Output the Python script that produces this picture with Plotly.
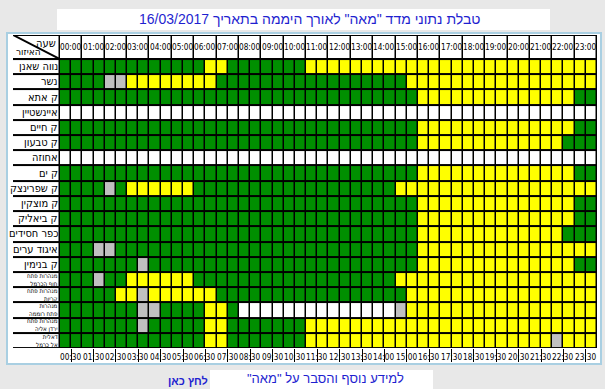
import plotly.graph_objects as go

# ---------------- data ----------------
stations = [
    "נווה שאנן", "נשר", "ק אתא", "איינשטיין", "ק חיים", "ק טבעון", "אחוזה",
    "ק ים", "ק שפרינצק", "ק מוצקין", "ק ביאליק", "כפר חסידים", "איגוד ערים",
    "ק בנימין", "מנהרות פתח<br>חוף הכרמל", "מנהרות פתח<br>קריות",
    "מנהרות<br>פתח רוממה", "מנהרות פתח<br>ירדן אליה", "דאלית<br>אל כרמל",
]

hour_labels = ["00:00", "01:00", "02:00", "03:00", "04:00", "05:00", "06:00", "07:00",
               "08:00", "09:00", "10:00", "11:00", "12:00", "13:00", "14:00", "15:00",
               "16:00", "17:00", "18:00", "19:00", "20:00", "21:00", "22:00", "23:00"]

bottom_labels = ["00:30", "01:30", "02:30", "03:30", "04:30", "05:30", "06:30", "07:30",
                 "08:30", "09:30", "10:30", "11:30", "12:30", "13:30", "14:00", "15:00",
                 "16:30", "17:30", "18:30", "19:30", "20:30", "21:30", "22:30", "23:30"]

# one string per station, 24 hour groups of two half-hour cells
# G = green, Y = yellow, S = grey (no data), W = white (station off)
status_rows = [
    "GG GG GG GG GG GG GY YG GG GG GG YY YY YY YY YY YY YY YY YY YY YY YY YY",
    "GG GG SS YY YY YY YY GG GG GG GG GG GG GG GG GY YY YY YY YY YY YY YY YY",
    "GG GG GG GG GG GG GG GG GG GG GG GG GG GG GG GG YY YY YY YY YY YY YY GG",
    "WW WW WW WW WW WW WW WW WW WW WW WW WW WW WW WW WW WW WW WW WW WW WW WW",
    "GG GG GG GG GG GG GG GG GG GG GG GG GG GG GG GG YY YY YY YY YY YY YY GG",
    "GG GG GG GG GG GG GG GG GG GG GG GG GG GG GG GG YY YY YY YY YY YY YG GG",
    "WW WW WW WW WW WW WW WW WW WW WW WW WW WW WW WW WW WW WW WW WW WW WW WW",
    "GG GG GG GG GG GG GG GG GG GG GG GG GG GG GG GG YY YY YY YY YY YY YY GG",
    "GG GG SG YY YY YY GG GG GG GG GG GG GG GG GG YY YY YY YY YY YY YY YY YY",
    "GG GG GG GG GG GG GG GG GG GG GG GG GG GG GG GG YY YY YY YY YY YY YY GG",
    "GG GG GG GG GG GG GG GG GG GG GG GG GG GG GG GG YY YY YY YY YY YY YY GG",
    "GG GG GG GG GG GG GG GG GG GG GG GG GG GG GG GG YY YY YY YY YY YY YG GG",
    "GG GS SG GG GG GG GG GG GG GG GG GG GG GG GG GG YY YY YY YY YY YY YY YY",
    "GG GG GG GS GG GG GG GG GG GG GG GG GG GG GG GG YY YY YY YY YY YY YY GG",
    "GG GS GG YY YY YY GG GG GG GG GG GG GG GG GG YY YY YY YY YY YY YY YY YY",
    "GG GG GY YS YY YY YY GG GG GG GG GG GG GG GG GY YY YY YY YY YY YY YY YY",
    "GG GG GG GS SG GG GY YG WW WW WW WW WW WW WW SY YY YY YY YY YY YY YY YY",
    "GG GG GG GS GG GG GY YG GG GG GG YY YY YY YY YY YY YY YY YY YY YY YY YY",
    "GG GG GG GG GG GG GY YG GG GG GG YY YY YY YY YY YY YY YY YY YY YY SY YY",
]

title_date = "16/03/2017"
title_words = "טבלת נתוני מדד \"מאה\" לאורך היממה בתאריך"
info_text = "למידע נוסף והסבר על \"מאה\"\u200f"
link_text = "לחץ כאן"
corner_top = "שעה"
corner_bottom = "האיזור"

# ---------------- styling / geometry ----------------
W, H = 605, 389
ML, MR, MT, MB = 13, 8, 35, 41
PW, PH = W - ML - MR, H - MT - MB
LABEL_W = 4.2      # width of station-name column (in half-hour units)
HEADER_H = 1.58    # header row height (in row units)

GREEN, YELLOW, GREY, WHITE = "#008f00", "#ffff00", "#c0c0c0", "#ffffff"
BLUE = "#1f1fd0"
code = {"W": 0, "G": 1, "Y": 2, "S": 3}
colorscale = [[0, WHITE], [1 / 6, WHITE], [1 / 6, GREEN], [3 / 6, GREEN],
              [3 / 6, YELLOW], [5 / 6, YELLOW], [5 / 6, GREY], [1, GREY]]

NARROW = "DejaVu Sans Condensed, Liberation Sans Narrow, sans-serif"
HEB = "DejaVu Sans Condensed, Liberation Sans, sans-serif"
ARIAL = "Liberation Sans, Arial, sans-serif"


def px_x(px):
    return (px - ML) / PW


def px_y(py):
    return 1 - (py - MT) / PH


n_half = len(hour_labels) * 2
n_rows = len(stations)

z_rows = []
for s in status_rows:
    cells = s.replace(" ", "")
    z_rows.append([0] + [code[c] for c in cells])

x_edges = [-LABEL_W] + list(range(n_half + 1))
y_edges = list(range(n_rows + 1))

fig = go.Figure()
fig.add_trace(go.Heatmap(
    x=x_edges, y=y_edges, z=z_rows, zmin=0, zmax=3, colorscale=colorscale,
    showscale=False, xgap=1.5, ygap=2, hoverinfo="skip"))

hx_edges = [-LABEL_W] + list(range(0, n_half + 1, 2))
fig.add_trace(go.Heatmap(
    x=hx_edges, y=[-HEADER_H, 0], z=[[0] * (len(hour_labels) + 1)],
    zmin=0, zmax=3, colorscale=colorscale, showscale=False,
    xgap=1.5, ygap=2, hoverinfo="skip"))

shapes = [
    # page panel
    dict(type="rect", xref="paper", yref="paper", x0=px_x(7), x1=px_x(601),
         y0=px_y(364), y1=px_y(33), fillcolor="white",
         line=dict(color="#a9cfe2", width=2), layer="below"),
    # title box
    dict(type="rect", xref="paper", yref="paper", x0=px_x(57), x1=px_x(550),
         y0=px_y(30), y1=px_y(9), fillcolor="white", line=dict(width=0), layer="below"),
    # info box
    dict(type="rect", xref="paper", yref="paper", x0=px_x(210), x1=px_x(433),
         y0=px_y(392), y1=px_y(370), fillcolor="white", line=dict(width=0), layer="below"),
    # table grid background (black lines)
    dict(type="rect", xref="x", yref="y", x0=-LABEL_W, x1=n_half, y0=-HEADER_H, y1=n_rows,
         fillcolor="black", line=dict(color="black", width=2), layer="below"),
    # corner diagonal
    dict(type="line", xref="x", yref="y", x0=-LABEL_W, y0=-HEADER_H, x1=0, y1=0,
         line=dict(color="black", width=2)),
]

ann = []
ann.append(dict(text=title_date + " " + title_words, xref="paper", yref="paper",
                x=px_x(309), y=px_y(19.5), xanchor="center", yanchor="middle",
                showarrow=False, font=dict(family=ARIAL, size=14, color=BLUE)))
for i, name in enumerate(stations):
    multi = "<br>" in name
    ann.append(dict(text=name, xref="x", yref="y", x=0, y=i + 0.5, xanchor="right",
                    yanchor="middle", xshift=-1, showarrow=False, align="right",
                    borderpad=0,
                    font=dict(family=HEB, size=6.2 if multi else 11, color="black")))
for h, lab in enumerate(hour_labels):
    ann.append(dict(text=lab, xref="x", yref="y", x=2 * h + 1, y=-HEADER_H / 2,
                    showarrow=False, font=dict(family=NARROW, size=8.2, color="black")))
for h, lab in enumerate(bottom_labels):
    ann.append(dict(text=lab, xref="x", yref="paper", x=2 * h + 1, y=0, yanchor="top",
                    xanchor="center", yshift=-2, showarrow=False,
                    font=dict(family=NARROW, size=8.2, color="black")))
ann.append(dict(text=corner_top, xref="x", yref="y", x=0, y=-HEADER_H, xanchor="right",
                yanchor="top", xshift=-2, yshift=0, showarrow=False,
                font=dict(family=HEB, size=11, color="black")))
ann.append(dict(text=corner_bottom, xref="x", yref="y", x=-LABEL_W, y=0, xanchor="left",
                yanchor="bottom", xshift=1, yshift=0, showarrow=False,
                font=dict(family=HEB, size=10, color="black")))
ann.append(dict(text=info_text, xref="paper", yref="paper", x=px_x(325), y=px_y(378),
                xanchor="center", yanchor="middle",
                showarrow=False, font=dict(family=ARIAL, size=13, color=BLUE)))
ann.append(dict(text="<b>" + link_text + "</b>", xref="paper", yref="paper", x=px_x(188),
                y=px_y(381), xanchor="center", yanchor="middle", showarrow=False,
                font=dict(family=ARIAL, size=11, color=BLUE)))

fig.update_layout(
    width=W, height=H, margin=dict(l=ML, r=MR, t=MT, b=MB, pad=0),
    paper_bgcolor="#e8e8e8", plot_bgcolor="black",
    shapes=shapes, annotations=ann, showlegend=False,
    xaxis=dict(range=[-LABEL_W, n_half], showgrid=False, zeroline=False,
               tickvals=list(range(1, n_half, 2)), ticks="outside", ticklen=13,
               tickcolor="black", tickwidth=1, showticklabels=False, fixedrange=True),
    yaxis=dict(range=[n_rows, -HEADER_H], showgrid=False, zeroline=False,
               showticklabels=False, ticks="", fixedrange=True),
)

fig.write_html("out.html", config={"displayModeBar": False},
               post_script="document.body.style.margin='0px';")
